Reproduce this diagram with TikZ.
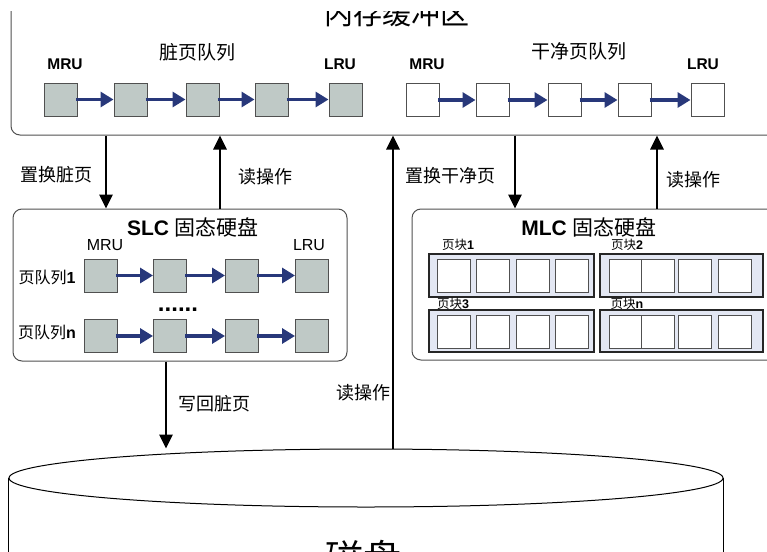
\documentclass[tikz,border=0pt]{standalone}
\usepackage{fontspec}
\setmainfont{Liberation Sans}
\newfontfamily\cjk{Noto Sans CJK SC}
\usetikzlibrary{arrows.meta,shapes.geometric}
\newcommand{\fsz}[1]{\fontsize{#1pt}{#1pt}\selectfont}
\definecolor{navy}{RGB}{40,56,122}
\definecolor{pgray}{RGB}{191,201,198}
\definecolor{bord}{RGB}{80,80,80}
\definecolor{blk}{RGB}{227,231,243}
\tikzset{
  gbox/.style={draw=bord, fill=pgray, line width=1pt, minimum width=33pt, minimum height=33pt, inner sep=0pt},
  wbox/.style={draw=bord, fill=white, line width=1pt, minimum width=33pt, minimum height=33pt, inner sep=0pt},
  qarrow/.style={draw=navy, line width=3.2pt, -{Triangle[length=13pt,width=15pt]}},
  bigarrow/.style={draw=black, line width=2.8pt, -{Triangle[length=14pt,width=13pt]}},
  panel/.style={draw=bord, line width=1pt, rounded corners=9pt, inner sep=0pt},
  blockbox/.style={draw=black!85, fill=blk, line width=1.8pt, inner sep=0pt},
  lbl/.style={inner sep=0pt, font=\cjk\fsz{18}},
  mru/.style={inner sep=0pt, font=\bfseries\fsz{15.5}},
}
\begin{document}
\begin{tikzpicture}[x=1pt,y=-1pt]
\useasboundingbox (0,0) rectangle (767,551);
\clip (0,12) rectangle (767,551);
% memory buffer
\node[panel, minimum width=779pt, minimum height=155pt] (mem) at (400.5,57.5) {};
\node[inner sep=0pt, font=\cjk\fsz{29}] (memtitle) at (397,14) {内存缓冲区};
\node[lbl, font=\cjk\fsz{19}] (dq) at (197,52) {脏页队列};
\node[lbl, font=\cjk\fsz{19}] (cq) at (579,51) {干净页队列};
\node[mru] (dmru) at (65,64) {MRU};
\node[mru] (dlru) at (340,64) {LRU};
\node[mru] (cmru) at (427,64) {MRU};
\node[mru] (clru) at (703,64) {LRU};
\foreach \i/\x in {1/61,2/130.5,3/202.5,4/271.5,5/345.5} {\node[gbox] (d\i) at (\x,99.5) {};}
\foreach \i/\x in {1/423,2/492.5,3/564.5,4/634.5,5/707.5} {\node[wbox] (c\i) at (\x,100) {};}
\foreach \a/\b in {1/2,2/3,3/4,4/5} {
  \draw[qarrow] ([xshift=-2pt]d\a.east) -- (d\b.west);
  \draw[qarrow] ([xshift=-2pt]c\a.east) -- (c\b.west);
}
% SLC
\node[panel, minimum width=334pt, minimum height=152pt] (slc) at (180,285) {};
\node[inner sep=0pt] (slct) at (193,227) {\bfseries\fsz{21}SLC {\cjk\mdseries\fsz{21}固态硬盘}};
\node[inner sep=0pt, font=\fsz{16}] (smru) at (105,245) {MRU};
\node[inner sep=0pt, font=\fsz{16}] (slru) at (309,245) {LRU};
\node[inner sep=0pt] (q1) at (47,277) {{\cjk\fsz{16}页队列}{\bfseries\fsz{16}1}};
\node[inner sep=0pt] (qn) at (47,332) {{\cjk\fsz{16}页队列}{\bfseries\fsz{16}n}};
\foreach \i/\x in {1/100.5,2/170,3/242,4/312} {
  \node[gbox] (sa\i) at (\x,275.5) {};
  \node[gbox] (sb\i) at (\x,336) {};
}
\foreach \a/\b in {1/2,2/3,3/4} {
  \draw[qarrow] ([xshift=-2pt]sa\a.east) -- (sa\b.west);
  \draw[qarrow] ([xshift=-2pt]sb\a.east) -- (sb\b.west);
}
\node[inner sep=0pt, anchor=base, font=\bfseries\fsz{24}] (dots) at (178,311) {......};
% MLC
\node[panel, minimum width=378pt, minimum height=151pt] (mlc) at (601,284.5) {};
\node[inner sep=0pt] (mlct) at (589,227) {\bfseries\fsz{21}MLC {\cjk\mdseries\fsz{21}固态硬盘}};
\node[blockbox, minimum width=165pt, minimum height=43pt] (b1) at (511.5,275.5) {};
\node[blockbox, minimum width=163pt, minimum height=43pt] (b2) at (681.5,275.5) {};
\node[blockbox, minimum width=165pt, minimum height=42pt] (b3) at (511.5,331) {};
\node[blockbox, minimum width=163pt, minimum height=42pt] (b4) at (681.5,331) {};
\foreach \i/\x in {1/454,2/493,3/532.5,4/571.5} {
  \node[wbox] (ba\i) at (\x,275.5) {};
  \node[wbox] (bc\i) at (\x,332) {};
}
\foreach \i/\x in {1/625.5,2/657.5,3/695,4/735} {
  \node[wbox] (bb\i) at (\x,275.5) {};
  \node[wbox] (bd\i) at (\x,332) {};
}
\node[inner sep=0pt] (l1) at (458,245) {{\cjk\fsz{12.5}页块}{\bfseries\fsz{12.5}1}};
\node[inner sep=0pt] (l2) at (627,245) {{\cjk\fsz{12.5}页块}{\bfseries\fsz{12.5}2}};
\node[inner sep=0pt] (l3) at (453,304) {{\cjk\fsz{12.5}页块}{\bfseries\fsz{12.5}3}};
\node[inner sep=0pt] (l4) at (627,304) {{\cjk\fsz{12.5}页块}{\bfseries\fsz{12.5}n}};
% disk
\node[draw=black, line width=1pt, ellipse, minimum width=714pt, minimum height=58pt, inner sep=0pt] (disk) at (366,478) {};
\coordinate (dl) at (9,600);
\coordinate (dr) at (723,600);
\draw[line width=1pt] (disk.west) -- (disk.west |- dl);
\draw[line width=1pt] (disk.east) -- (disk.east |- dr);
\node[inner sep=0pt, font=\cjk\fsz{38}] (disklbl) at (363,558) {磁盘};
% connectors
\coordinate (xa) at (106,0);
\coordinate (xb) at (220,0);
\coordinate (xc) at (515,0);
\coordinate (xd) at (657,0);
\coordinate (xe) at (166,0);
\coordinate (xf) at (393,0);
\draw[bigarrow] (mem.south -| xa) -- (slc.north -| xa);
\draw[bigarrow] (slc.north -| xb) -- (mem.south -| xb);
\draw[bigarrow] (mem.south -| xc) -- (mlc.north -| xc);
\draw[bigarrow] (mlc.north -| xd) -- (mem.south -| xd);
\draw[bigarrow] (slc.south -| xe) -- (disk.north -| xe);
\draw[bigarrow] (disk.north -| xf) -- (mem.south -| xf);
\node[lbl] (t1) at (56,175) {置换脏页};
\node[lbl] (t2) at (265,177) {读操作};
\node[lbl] (t3) at (450,176) {置换干净页};
\node[lbl] (t4) at (693,180) {读操作};
\node[lbl] (t5) at (214,404) {写回脏页};
\node[lbl] (t6) at (363,393) {读操作};
\end{tikzpicture}
\end{document}
